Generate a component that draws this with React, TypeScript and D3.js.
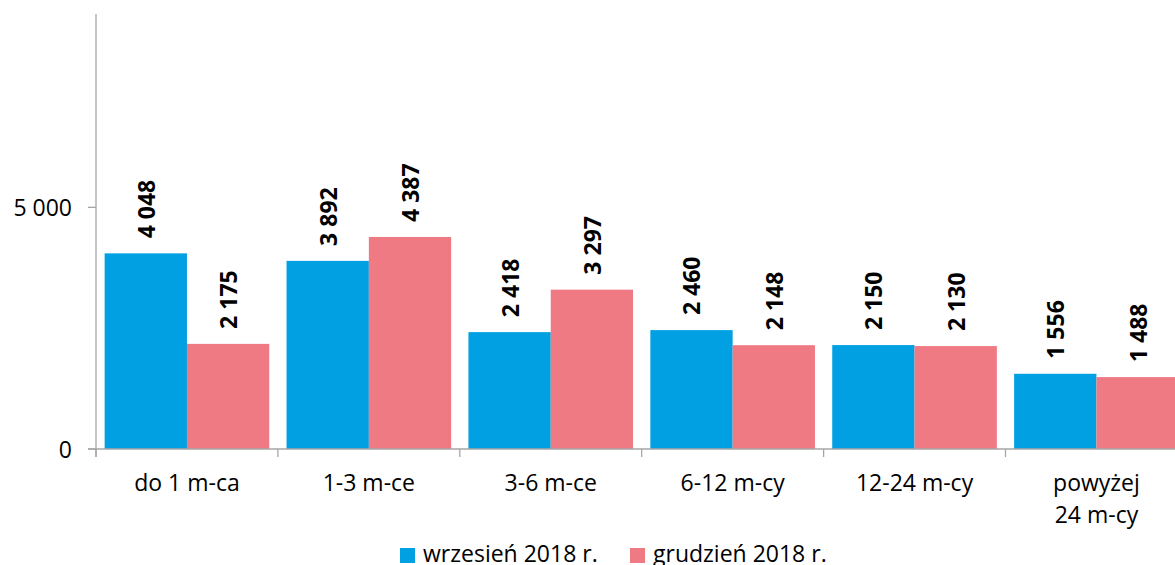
import React, { useEffect, useRef } from "react";
import * as d3 from "d3";

const categories = ["do 1 m-ca", "1-3 m-ce", "3-6 m-ce", "6-12 m-cy", "12-24 m-cy", "powyżej\n24 m-cy"];
const seriesNames = ["wrzesień 2018 r.", "grudzień 2018 r."];
const september = [4048, 3892, 2418, 2460, 2150, 1556];
const december = [2175, 4387, 3297, 2148, 2130, 1488];
const yTicks = [0, 5000];
const colors = ["#00a0e2", "#f07a84"];

const W = 1175;
const H = 565;
const FONT = "'Open Sans', sans-serif";

export default function App() {
  const ref = useRef<SVGSVGElement | null>(null);

  useEffect(() => {
    const svg = d3.select(ref.current);
    svg.selectAll("*").remove();

    const left = 96, top = 14, bottom = 449;
    const step = 181.9;
    const right = left + step * categories.length;

    const x0 = d3.scaleBand<string>().domain(categories).range([left, right]).paddingInner(0.095).paddingOuter(0.0475);
    const x1 = d3.scaleBand<string>().domain(seriesNames).range([0, x0.bandwidth()]);
    const y = d3.scaleLinear().domain([0, 9000]).range([bottom, top]);

    const loc = d3.formatLocale({ decimal: ",", thousands: " ", grouping: [3], currency: ["", " zł"] });
    const fmt = loc.format(",d");

    const series = [september, december];

    // bars
    series.forEach((vals, si) => {
      svg.append("g")
        .selectAll("rect")
        .data(vals)
        .join("rect")
        .attr("x", (_, i) => (x0(categories[i]) as number) + (x1(seriesNames[si]) as number))
        .attr("y", (d) => y(d))
        .attr("width", x1.bandwidth())
        .attr("height", (d) => y(0) - y(d))
        .attr("fill", colors[si]);
    });

    // labels
    series.forEach((vals, si) => {
      svg.append("g")
        .selectAll("text")
        .data(vals)
        .join("text")
        .attr("transform", (d, i) => {
          const cx = (x0(categories[i]) as number) + (x1(seriesNames[si]) as number) + x1.bandwidth() / 2;
          return `translate(${cx},${y(d) - 15}) rotate(-90)`;
        })
        .attr("dominant-baseline", "central")
        .attr("text-anchor", "start")
        .attr("font-family", FONT)
        .attr("font-weight", "bold")
        .attr("font-size", 23)
        .attr("fill", "#000")
        .text((d) => fmt(d));
    });

    const axisColor = "#a6a6a6";
    // y axis line
    svg.append("line").attr("x1", left).attr("x2", left).attr("y1", top).attr("y2", bottom + 8)
      .attr("stroke", axisColor).attr("stroke-width", 1.3);
    // x axis line
    svg.append("line").attr("x1", left - 8).attr("x2", right).attr("y1", bottom).attr("y2", bottom)
      .attr("stroke", axisColor).attr("stroke-width", 1.3);

    // y ticks
    yTicks.forEach((t) => {
      svg.append("line").attr("x1", left - 8).attr("x2", left).attr("y1", y(t)).attr("y2", y(t))
        .attr("stroke", axisColor).attr("stroke-width", 1.3);
      svg.append("text").attr("x", 72).attr("y", y(t)).attr("dominant-baseline", "central")
        .attr("text-anchor", "end").attr("font-family", FONT).attr("font-size", 23).attr("fill", "#000")
        .text(fmt(t));
    });

    // x ticks at boundaries
    for (let i = 0; i <= categories.length; i++) {
      const bx = left + i * step;
      svg.append("line").attr("x1", bx).attr("x2", bx).attr("y1", bottom).attr("y2", bottom + 8)
        .attr("stroke", axisColor).attr("stroke-width", 1.3);
    }

    // x labels
    categories.forEach((c) => {
      const cx = (x0(c) as number) + x0.bandwidth() / 2;
      const lines = c.split("\n");
      const t = svg.append("text").attr("text-anchor", "middle").attr("font-family", FONT)
        .attr("font-size", 23).attr("fill", "#000");
      lines.forEach((ln, li) => {
        t.append("tspan").attr("x", cx).attr("y", 491 + li * 32).text(ln);
      });
    });

    // legend
    const legendItems = [
      { x: 400, name: seriesNames[0], color: colors[0] },
      { x: 630, name: seriesNames[1], color: colors[1] },
    ];
    legendItems.forEach((it) => {
      svg.append("rect").attr("x", it.x).attr("y", 548).attr("width", 15).attr("height", 15).attr("fill", it.color);
      svg.append("text").attr("x", it.x + 23).attr("y", 562).attr("font-family", FONT).attr("font-size", 23)
        .attr("fill", "#000").text(it.name);
    });
  }, []);

  return (
    <svg
      ref={ref}
      width={W}
      height={H}
      style={{ position: "absolute", left: 0, top: 0, background: "#fff" }}
    />
  );
}
